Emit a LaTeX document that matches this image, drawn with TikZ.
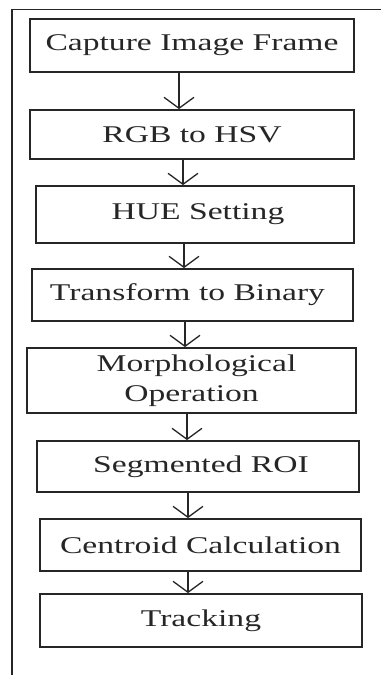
\documentclass[tikz,border=0pt]{standalone}
\usepackage{fontspec}
\newfontfamily\boxfont[FakeStretch=1.4]{Liberation Serif}
\usetikzlibrary{arrows.meta}
\begin{document}
\begin{tikzpicture}[x=1pt,y=-1pt,
  stepbox/.style={draw=black!85,line width=1.8pt,inner sep=0pt,align=center,
    font=\boxfont\fontsize{24}{30}\selectfont,text=black!85},
  arr/.style={draw=black!85,line width=1.5pt,-{Straight Barb[length=11pt,width=30pt,line width=1.3pt]}},
  frame/.style={draw=black!85,line width=1.8pt}]
\useasboundingbox (0,0) rectangle (381,675);
\draw[frame] (12,675) -- (12,9.5) -- (381,9.5);
\node[stepbox,minimum width=324pt,minimum height=53pt] (b1) at (192,45.5) {Capture Image Frame};
\node[stepbox,minimum width=324pt,minimum height=49pt] (b2) at (192,134.5) {RGB to HSV};
\node[stepbox,minimum width=318pt,minimum height=57pt] (b3) at (195,214.5) {\hspace{6pt}HUE Setting};
\node[stepbox,minimum width=321pt,minimum height=52pt] (b4) at (192.5,295) {Transform to Binary\hspace{10pt}};
\node[stepbox,minimum width=329pt,minimum height=65pt] (b5) at (191.5,380.5) {\hspace{10pt}Morphological\\Operation\hspace{10pt}};
\node[stepbox,minimum width=322pt,minimum height=51pt] (b6) at (198,466.5) {\hspace{6pt}Segmented ROI};
\node[stepbox,minimum width=321pt,minimum height=52pt] (b7) at (200.5,545) {Centroid Calculation};
\node[stepbox,minimum width=322pt,minimum height=53pt] (b8) at (201,620.5) {Tracking};
\draw[arr] (b1.south -| 179,0) -- (b2.north -| 179,0);
\draw[arr] (b2.south -| 183,0) -- (b3.north -| 183,0);
\draw[arr] (b3.south -| 184,0) -- (b4.north -| 184,0);
\draw[arr] (b4.south -| 185,0) -- (b5.north -| 185,0);
\draw[arr] (b5.south -| 187,0) -- (b6.north -| 187,0);
\draw[arr] (b6.south -| 188,0) -- (b7.north -| 188,0);
\draw[arr] (b7.south -| 188,0) -- (b8.north -| 188,0);
\end{tikzpicture}
\end{document}
